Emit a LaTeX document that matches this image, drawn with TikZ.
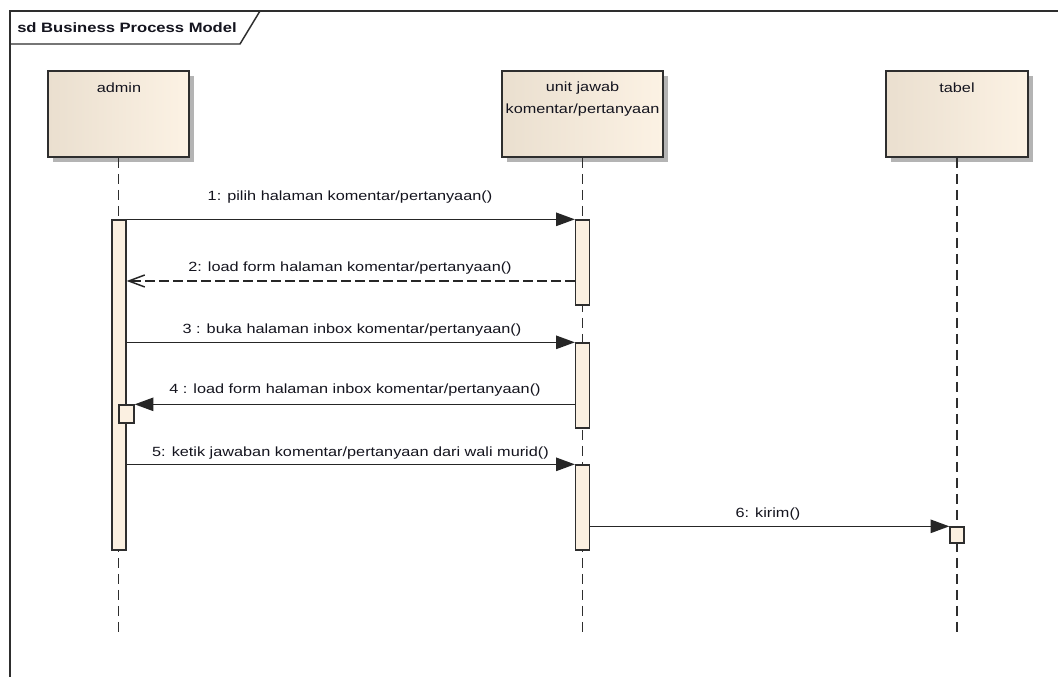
\documentclass[tikz,border=0pt]{standalone}
\usepackage{fontspec}
\setmainfont{Liberation Sans}[FakeStretch=1.22]
\usetikzlibrary{arrows.meta,fit,shadows}

\definecolor{frameline}{HTML}{2E2E2E}
\definecolor{headL}{HTML}{EADFCF}
\definecolor{headR}{HTML}{FCF2E4}
\definecolor{actfill}{HTML}{FBF0E1}
\definecolor{txt}{HTML}{14141E}
\definecolor{shade}{HTML}{B4B4B4}

\begin{document}
\begin{tikzpicture}[x=0.75pt,y=-0.75pt,
  every node/.style={font=\fontsize{10}{12}\selectfont, text=txt},
  head/.style={draw=frameline, line width=1.2pt, left color=headL, right color=headR,
    inner sep=0pt, drop shadow={shadow xshift=3.6pt, shadow yshift=-3.6pt, fill=shade, opacity=1}},
  act/.style={draw=frameline, line width=1pt, fill=actfill, inner sep=0pt},
  life/.style={draw=frameline, line width=1.1pt, dash pattern=on 7.5pt off 4.5pt},
  msg/.style={draw=black!85, line width=1.1pt, -{Triangle[length=14pt,width=10pt]}},
  reply/.style={draw=black!85, line width=1.1pt, dash pattern=on 7.5pt off 3pt,
    -{Straight Barb[length=12pt,width=9pt]}},
  lbl/.style={inner sep=0pt}
]
\useasboundingbox (0,0) rectangle (1058,677);
\fill[white] (0,0) rectangle (1058,677);

% diagram frame with its name tab
\draw[frameline, line width=1.3pt] (1058,11) -- (10,11) -- (10,677);
\draw[frameline, line width=1.1pt] (10,44) -- (240,44) -- (260,11);
\node[lbl, anchor=west, font=\fontsize{10.2}{12}\selectfont\bfseries] (title) at (17,28) {sd Business Process Model};

% lifeline heads
\node[head, fit={(48,71) (189,157)}] (admin) {};
\node[head, fit={(502,71) (663,157)}] (unit) {};
\node[head, fit={(886,71) (1028,157)}] (tabel) {};
\node[lbl] (adminT) at (119,88) {admin};
\node[lbl] (unitT1) at (582.5,88) {unit jawab};
\node[lbl] (unitT2) at (582.5,110) {komentar/pertanyaan};
\node[lbl] (tabelT) at (957,88) {tabel};

% lifelines
\coordinate (adminEnd) at (118.5,634);
\coordinate (unitEnd) at (582.5,634);
\coordinate (tabelEnd) at (957,634);
\draw[life] (admin.south) -- (adminEnd);
\draw[life] (unit.south) -- (unitEnd);
\draw[life] (tabel.south) -- (tabelEnd);

% activation bars
\node[act, fit={(112,220) (126,550)}] (actA) {};
\node[act, fit={(119,405) (134,423)}] (actA2) {};
\node[act, fit={(575.5,220) (589.5,305)}] (actU1) {};
\node[act, fit={(575.5,343) (589.5,428)}] (actU2) {};
\node[act, fit={(575.5,465) (589.5,550)}] (actU3) {};
\node[act, fit={(950,527) (964,543)}] (actT) {};

% messages
\coordinate (y2) at (0,281);
\draw[msg] (actA.north east) -- (actU1.north west);
\draw[reply] (actU1.west |- y2) -- (actA.east |- y2);
\draw[msg] (actA.east |- actU2.north) -- (actU2.north west);
\draw[msg] (actU2.west |- actA2.north) -- (actA2.north east);
\draw[msg] (actA.east |- actU3.north) -- (actU3.north west);
\draw[msg] (actU3.east |- actT.north) -- (actT.north west);

% message labels
\node[lbl] (l1) at (350,197) {1: pilih halaman komentar/pertanyaan()};
\node[lbl] (l2) at (350,268) {2: load form halaman komentar/pertanyaan()};
\node[lbl] (l3) at (352,330) {3 : buka halaman inbox komentar/pertanyaan()};
\node[lbl] (l4) at (355,390) {4 : load form halaman inbox komentar/pertanyaan()};
\node[lbl] (l5) at (350.5,453) {5: ketik jawaban komentar/pertanyaan dari wali murid()};
\node[lbl] (l6) at (768,514) {6: kirim()};
\end{tikzpicture}
\end{document}
